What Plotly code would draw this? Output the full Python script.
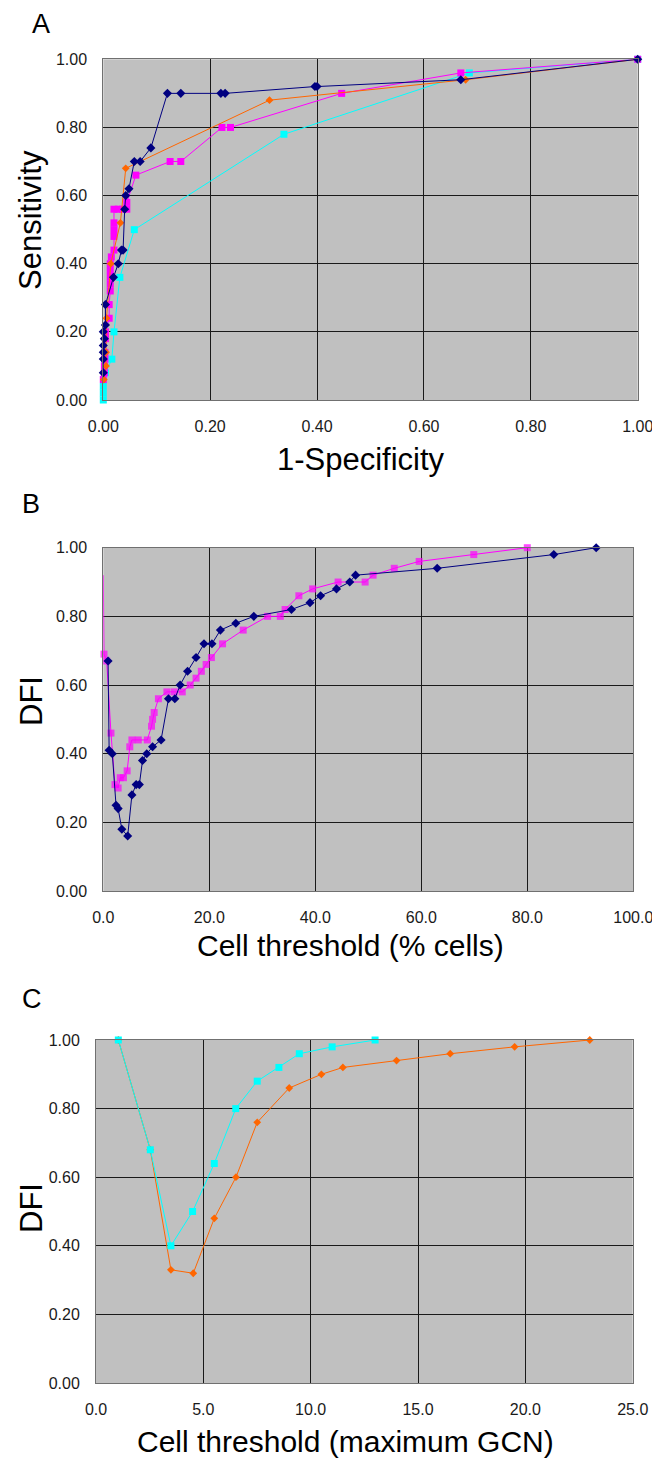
import plotly.graph_objects as go

# Page body margin is removed (see post_script), so figure pixels map 1:1 to the window.
OFF = 0
W, H = 652, 1463

# ---------------- Panel A data (ROC) ----------------
a_navy_x = [0.000, 0.000, 0.000, 0.000, 0.002, 0.000, 0.004, 0.004, 0.019, 0.028, 0.034, 0.037, 0.040, 0.042, 0.048, 0.058, 0.069, 0.089, 0.120, 0.145, 0.220, 0.228, 0.396, 0.400, 0.669, 1.000]
a_navy_y = [0.08, 0.12, 0.14, 0.16, 0.18, 0.20, 0.22, 0.28, 0.36, 0.40, 0.44, 0.44, 0.56, 0.60, 0.62, 0.70, 0.70, 0.74, 0.90, 0.90, 0.90, 0.90, 0.92, 0.92, 0.94, 1.00]

a_orange_x = [0.001, 0.005, 0.005, 0.006, 0.014, 0.032, 0.042, 0.311, 0.678, 1.000]
a_orange_y = [0.06, 0.10, 0.14, 0.24, 0.40, 0.52, 0.68, 0.88, 0.94, 1.00]

a_mag_x = [0.000, 0.002, 0.002, 0.003, 0.003, 0.004, 0.004, 0.011, 0.011, 0.013, 0.013, 0.013, 0.013, 0.013, 0.015, 0.020, 0.020, 0.020, 0.020, 0.020, 0.028, 0.036, 0.044, 0.044, 0.061, 0.125, 0.145, 0.222, 0.238, 0.446, 0.669, 1.000]
a_mag_y = [0.06, 0.08, 0.10, 0.12, 0.14, 0.18, 0.20, 0.24, 0.28, 0.32, 0.34, 0.36, 0.38, 0.40, 0.42, 0.44, 0.48, 0.50, 0.52, 0.56, 0.56, 0.56, 0.56, 0.58, 0.66, 0.70, 0.70, 0.80, 0.80, 0.90, 0.96, 1.00]

a_cyan_x = [0.000, 0.000, 0.000, 0.004, 0.016, 0.020, 0.031, 0.058, 0.338, 0.685, 1.000]
a_cyan_y = [0.00, 0.02, 0.04, 0.08, 0.12, 0.20, 0.36, 0.50, 0.78, 0.96, 1.00]

# ---------------- Panel B data (DFI vs % cells) ----------------
b_navy_x = [0.9, 1.1, 1.7, 2.4, 2.8, 3.5, 4.6, 5.4, 6.2, 6.8, 7.4, 8.2, 9.3, 10.9, 12.3, 13.5, 14.5, 15.9, 17.5, 19.0, 20.5, 22.1, 25.0, 28.4, 35.5, 39.0, 41.0, 44.0, 46.5, 47.6, 63.0, 85.0, 93.0]
b_navy_y = [0.67, 0.41, 0.40, 0.25, 0.24, 0.18, 0.16, 0.28, 0.31, 0.31, 0.38, 0.40, 0.42, 0.44, 0.56, 0.56, 0.60, 0.64, 0.68, 0.72, 0.72, 0.76, 0.78, 0.80, 0.82, 0.84, 0.86, 0.88, 0.90, 0.92, 0.94, 0.98, 1.00]

b_mag_x = [0.0, 0.13, 0.64, 1.45, 2.2, 2.8, 3.2, 3.8, 4.5, 5.0, 5.4, 6.6, 8.3, 9.1, 9.3, 9.6, 10.4, 12.0, 13.4, 14.9, 16.4, 17.5, 18.5, 19.4, 20.4, 22.5, 26.4, 31.0, 33.4, 34.3, 36.9, 39.5, 44.3, 49.4, 50.9, 54.9, 59.6, 69.9, 80.0]
b_mag_y = [0.92, 0.69, 0.67, 0.46, 0.31, 0.30, 0.33, 0.33, 0.35, 0.42, 0.44, 0.44, 0.44, 0.48, 0.50, 0.52, 0.56, 0.58, 0.58, 0.58, 0.60, 0.62, 0.64, 0.66, 0.68, 0.72, 0.76, 0.80, 0.80, 0.82, 0.86, 0.88, 0.90, 0.90, 0.92, 0.94, 0.96, 0.98, 1.00]

# ---------------- Panel C data (DFI vs max GCN) ----------------
c_cyan_x = [1.04, 2.53, 3.49, 4.50, 5.51, 6.51, 7.51, 8.52, 9.47, 11.0, 13.0]
c_cyan_y = [1.00, 0.68, 0.40, 0.50, 0.64, 0.80, 0.88, 0.92, 0.96, 0.98, 1.00]

c_orange_x = [1.04, 2.53, 3.49, 4.53, 5.51, 6.52, 7.51, 9.0, 10.5, 11.5, 14.0, 16.5, 19.5, 23.0]
c_orange_y = [1.00, 0.68, 0.33, 0.32, 0.48, 0.60, 0.76, 0.86, 0.90, 0.92, 0.94, 0.96, 0.98, 1.00]

# ---------------- Styling ----------------
NAVY = "#000080"
ORANGE = "#FF6600"
MAGENTA = "#FF00FF"
CYAN = "#00FFFF"
FONT = "Liberation Sans, Arial, sans-serif"


def py(px):
    return 1 - (px - OFF) / H


def pxx(px):
    return (px - OFF) / W


fig = go.Figure()


def add(xs, ys, color, symbol, size, xa, ya, sizes=None):
    fig.add_trace(go.Scatter(
        x=xs, y=ys, mode="lines+markers",
        line=dict(color=color, width=1),
        marker=dict(color=color, symbol=symbol, size=sizes if sizes is not None else size,
                    line=dict(width=0)),
        xaxis=xa, yaxis=ya, cliponaxis=False, showlegend=False,
    ))


# Panel A
add(a_cyan_x, a_cyan_y, CYAN, "square", 7, "x", "y")
add(a_mag_x, a_mag_y, MAGENTA, "square", 7, "x", "y")
add(a_orange_x, a_orange_y, ORANGE, "diamond", 6, "x", "y")
add(a_navy_x, a_navy_y, NAVY, "diamond", 7, "x", "y")
# Panel B
mag_sizes = [0] + [7] * (len(b_mag_x) - 1)
add(b_mag_x, b_mag_y, MAGENTA, "square", 7, "x2", "y2", sizes=mag_sizes)
add(b_navy_x, b_navy_y, NAVY, "diamond", 7, "x2", "y2")
# Panel C
add(c_orange_x, c_orange_y, ORANGE, "diamond", 6, "x3", "y3")
add(c_cyan_x, c_cyan_y, CYAN, "square", 7, "x3", "y3")

axis_common = dict(
    showgrid=True, gridcolor="#1a1a1a", gridwidth=1,
    zeroline=False, showline=True, linecolor="#707070", linewidth=1, mirror=True,
    ticks="", tickfont=dict(family=FONT, size=16, color="#1a1a1a"),
    ticklabelstandoff=12, ticklabeloverflow="allow",
    fixedrange=True, automargin=False,
)

domA = dict(x=[pxx(103.3), pxx(637.7)], y=[py(400), py(59.3)])
domB = dict(x=[pxx(103.3), pxx(633.3)], y=[py(891), py(547.7)])
domC = dict(x=[pxx(96), pxx(632.7)], y=[py(1383), py(1040)])

fig.update_layout(
    width=W, height=H,
    margin=dict(l=0, r=0, t=0, b=0, autoexpand=False),
    paper_bgcolor="white",
    plot_bgcolor="#C0C0C0",
    font=dict(family=FONT, color="#000"),
    xaxis=dict(axis_common, domain=domA["x"], range=[0, 1], dtick=0.2, tickformat=".2f", anchor="y"),
    yaxis=dict(axis_common, domain=domA["y"], range=[0, 1], dtick=0.2, tickformat=".2f", anchor="x"),
    xaxis2=dict(axis_common, domain=domB["x"], range=[0, 100], dtick=20, tickformat=".1f", anchor="y2"),
    yaxis2=dict(axis_common, domain=domB["y"], range=[0, 1], dtick=0.2, tickformat=".2f", anchor="x2"),
    xaxis3=dict(axis_common, domain=domC["x"], range=[0, 25], dtick=5, tickformat=".1f", anchor="y3"),
    yaxis3=dict(axis_common, domain=domC["y"], range=[0, 1], dtick=0.2, tickformat=".2f", anchor="x3"),
)

ann = []


def text(t, x, y, size, angle=0):
    ann.append(dict(text=t, x=pxx(x), y=py(y), xref="paper", yref="paper",
                    showarrow=False, xanchor="center", yanchor="middle",
                    textangle=angle, font=dict(family=FONT, size=size, color="#000")))


text("A", 41, 24, 27)
text("B", 31, 504, 27)
text("C", 32, 999, 27)
text("Sensitivity", 30, 220, 31, -90)
text("1-Specificity", 361, 459, 31)
text("DFI", 31, 701, 31, -90)
text("Cell threshold (% cells)", 350, 945, 30)
text("DFI", 31, 1208, 31, -90)
text("Cell threshold (maximum GCN)", 345, 1441, 30)

fig.update_layout(annotations=ann)

fig.write_html(
    "out.html",
    config={"displayModeBar": False},
    post_script="document.body.style.margin='0';document.documentElement.style.overflow='hidden';document.body.style.overflow='hidden';",
)
